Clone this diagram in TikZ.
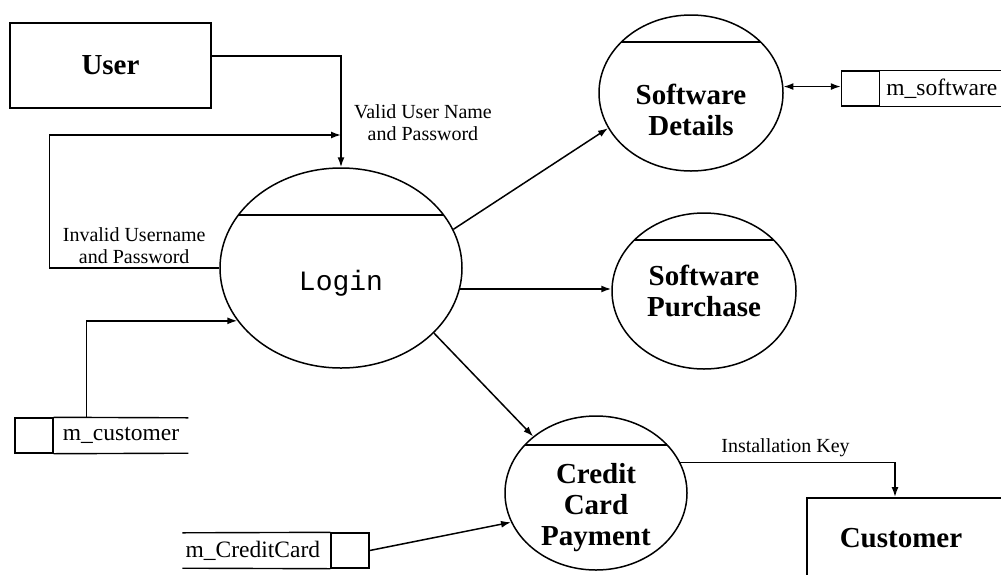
\documentclass[tikz,border=0pt]{standalone}
\usepackage{fontspec}
\setmainfont{Liberation Serif}
\newfontfamily\monofont{Liberation Mono}
\usetikzlibrary{arrows.meta,shapes.geometric}
\tikzset{ext/.style={draw,line width=1.6pt,minimum width=201pt,minimum height=85pt,font=\fontsize{29}{31}\selectfont\bfseries},
 proc/.style={ellipse,draw,line width=1.5pt,inner sep=0pt,path picture={\draw[line width=1.5pt] ([yshift=-#1]path picture bounding box.north west)--([yshift=-#1]path picture bounding box.north east);}},
 ptext/.style={font=\fontsize{29}{31}\selectfont\bfseries,align=center},
 cell/.style={draw,line width=1.4pt,minimum width=38pt,minimum height=35pt,inner sep=0pt},
 sname/.style={font=\fontsize{23.5}{25}\selectfont,minimum height=35pt,inner ysep=0pt},
 flow/.style={font=\fontsize{20}{22}\selectfont,align=center},
 arr/.style={-{Latex[length=10pt,width=7pt]},line width=1.5pt},
 biarr/.style={{Latex[length=10pt,width=7pt]}-{Latex[length=10pt,width=7pt]},line width=1.5pt}}

\begin{document}
\begin{tikzpicture}[x=1pt,y=-1pt]
\useasboundingbox (0,0) rectangle (1001,574);
% entities
\node[ext] (user) at (110.5,65.5) {User};
\node[ext,minimum width=240pt,minimum height=120pt,anchor=north west] (cust) at (806,497) {};
\node[ptext] (custlbl) at (901,538) {Customer};
% processes
\node[proc=47pt,minimum width=242pt,minimum height=200pt,
 label={[font=\monofont\fontsize{28}{30}\selectfont,yshift=-15pt]center:Login}] (login) at (341,268) {};
\node[proc=27pt,minimum width=184pt,minimum height=156pt,
 label={[ptext,yshift=-17pt]center:Software\\Details}] (swdet) at (691,93) {};
\node[proc=27pt,minimum width=184pt,minimum height=156pt,ptext] (purch) at (704,291) {Software\\Purchase};
\node[proc=29pt,minimum width=182pt,minimum height=154pt,
 label={[ptext,yshift=-15pt]center:Credit\\Card\\Payment}] (credit) at (596,493) {};
% data stores
\node[cell] (mcustid) at (34,435.5) {};
\node[sname,anchor=west,inner xsep=9pt] (mcust) at (mcustid.east) {m\_customer};
\draw[line width=1.4pt] (mcustid.north east) -- (mcust.north east) (mcustid.south east) -- (mcust.south east);
\node[cell] (mccid) at (350,550.5) {};
\node[sname,anchor=east,inner xsep=10pt] (mcc) at (mccid.west) {m\_CreditCard};
\draw[line width=1.4pt] ([xshift=7pt]mcc.north west) -- (mccid.north west) ([xshift=7pt]mcc.south west) -- (mccid.south west);
\node[cell] (mswid) at (860.5,88.5) {};
\node[sname,anchor=west,inner xsep=6pt] (msw) at (mswid.east) {m\_software};
\draw[line width=1.4pt] (mswid.north east) -- ++(150,0) (mswid.south east) -- ++(150,0);
% flows
\coordinate (merge) at (login.north |- 0,135);
\draw[arr] ([yshift=9.5pt]user.east) -| node[pos=.8,right=9pt,flow]{Valid User Name\\and Password} (login.north);
\draw[arr] (login.west) -- node[above,flow]{Invalid Username\\and Password} ++(-170,0) |- (merge);
\draw[arr] ([xshift=33pt]mcust.north west) |- (login.207);
\draw[arr] (login.19) -- (swdet.203);
\draw[arr] (login.-10) -- (login.-10 -| purch.west);
\draw[arr] (login.-35) -- (credit.138);
\draw[biarr] (swdet.4) -- (swdet.4 -| mswid.west);
\draw[arr] (mccid.east) -- (credit.199);
\draw[arr] (credit.20) -| node[pos=.245,above=1pt,flow]{Installation Key} ([xshift=89pt]cust.north west);
\end{tikzpicture}
\end{document}
